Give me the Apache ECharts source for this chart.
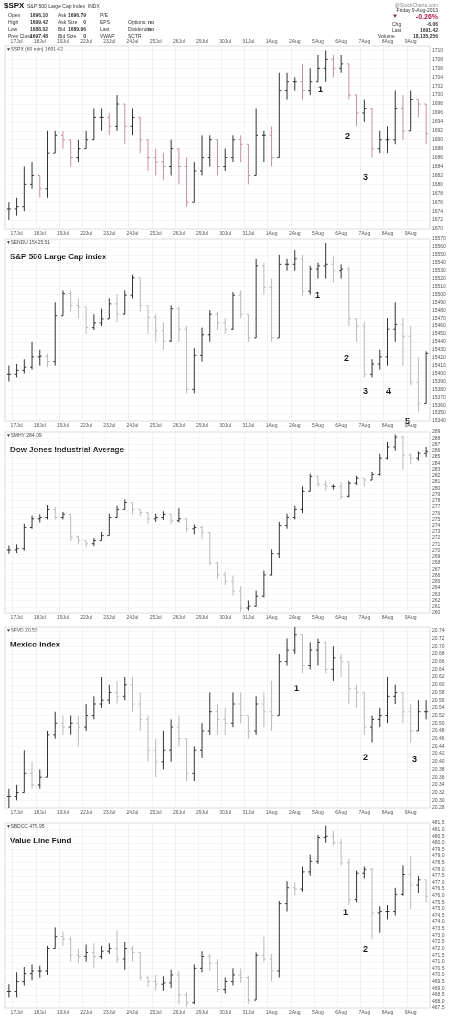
<!DOCTYPE html>
<html>
<head>
<meta charset="utf-8">
<script src="https://cdn.jsdelivr.net/npm/echarts@6/dist/echarts.min.js"></script>
<style>
body{margin:0;background:#fff;}
#main{width:450px;height:1017px;}
</style>
</head>
<body>
<div id="main"></div>
<script>
//交易日标签(每天3根60分钟K线,第一根属于16Jul)
var days=["17Jul","18Jul","19Jul","22Jul","23Jul","24Jul","25Jul","26Jul","29Jul","30Jul","31Jul","1Aug","2Aug","5Aug","6Aug","7Aug","8Aug","9Aug"];

//$SPX
var c1=[1674.5,1675,1680,1682,1679,1687,1691,1690,1686,1688,1690,1695,1695,1693,1698,1693,1695,1690,1686,1685,1684,1688,1684,1676,1683,1686,1690,1684,1686,1690,1689,1682,1691,1691,1686,1701,1703,1703,1701,1703,1706,1708,1706,1707,1700,1696,1697,1688,1690,1690,1697,1692,1699,1698,1691.4];
var h1=[1676,1677,1684,1685,1682,1692,1692,1692,1689,1690,1692,1697,1697,1696,1700,1697,1697,1694,1690,1688,1687,1690,1688,1686,1685,1691,1691,1689,1688,1691,1691,1686,1697,1692,1693,1705,1705,1704,1707,1706,1709,1710,1709,1709,1707,1699,1699,1697,1692,1693,1701,1700,1701,1699,1695];
var l1=[1672,1673,1674,1679,1677,1677,1687,1688,1684,1685,1688,1690,1692,1691,1692,1689,1691,1687,1683,1682,1681,1682,1680,1675,1676,1682,1684,1682,1683,1685,1685,1680,1682,1685,1684,1686,1699,1701,1699,1700,1703,1703,1704,1705,1699,1693,1694,1686,1687,1687,1689,1690,1692,1695,1689];
//S&P 500 Large Cap Index
var c2=[15399,15404,15408,15421,15422,15415,15473,15501,15486,15484,15458,15464,15469,15488,15475,15499,15521,15486,15471,15454,15441,15482,15456,15380,15423,15449,15475,15464,15456,15499,15475,15445,15536,15509,15445,15538,15538,15545,15504,15532,15536,15538,15530,15532,15469,15460,15399,15412,15421,15456,15462,15447,15389,15362,15425.5];
var h2=[15410,15412,15418,15440,15430,15425,15490,15505,15505,15495,15475,15475,15482,15495,15500,15505,15525,15520,15485,15475,15465,15486,15485,15460,15432,15458,15480,15478,15470,15503,15505,15475,15545,15540,15520,15550,15545,15556,15550,15536,15540,15565,15548,15538,15535,15470,15465,15418,15430,15470,15490,15470,15460,15420,15428];
var l2=[15390,15395,15400,15405,15410,15408,15410,15480,15478,15470,15450,15455,15460,15470,15465,15480,15495,15478,15450,15440,15430,15440,15440,15375,15375,15415,15440,15455,15450,15455,15470,15440,15450,15500,15440,15448,15530,15530,15498,15500,15520,15520,15515,15520,15460,15440,15395,15395,15405,15410,15440,15410,15385,15352,15385];
//Dow Jones Industrial Average
var c3=[270.1,270.3,273.7,275.1,275.3,276.6,275.3,275.8,272.2,271.6,271.1,271.6,272.4,275.3,276.6,277.7,276.6,276.1,275.1,275.3,275.8,274.8,275.1,273.5,273.7,272.9,268.0,266.1,265.1,263.5,260.8,261.1,262.7,266.1,269.5,274.0,275.3,276.6,279.5,281.9,280.6,280.3,280.3,278.7,280.8,281.6,281.3,282.2,284.8,286.6,288.2,285.3,284.8,285.6,285.9];
var h3=[270.8,271,274.3,275.6,275.8,277.3,277,276.2,273.5,272.4,271.5,272,273,275.9,277.2,278.2,277.5,276.5,275.8,275.9,276.3,275.5,276.8,274.5,274.2,274,273,268.2,266.6,266,264.3,262,263.6,266.8,270.2,274.6,275.9,277.2,280.3,282.3,282,281.2,280.6,281,281.2,282,281.6,282.6,285.5,287.4,288.6,288.4,285.6,285.9,286.6];
var l3=[269.5,269.6,270,273.5,274.5,275,275,275,271.5,271,270.5,270.7,271.6,272.5,275.5,276.8,275.8,275.5,274.3,274.6,274.9,274.2,274.5,273,272.6,271.8,267.7,265.5,264.5,262.8,260.2,260.4,261,262.5,266,268.8,273.5,275,276,279.5,280.2,279.6,279.8,278.2,278.5,280.5,280.3,281.5,282,284.6,286,283,283.8,284.4,285];
//Mexico Index
var c4=[20.31,20.32,20.37,20.34,20.36,20.47,20.50,20.49,20.50,20.49,20.52,20.55,20.56,20.58,20.57,20.60,20.55,20.51,20.43,20.40,20.43,20.49,20.46,20.37,20.43,20.48,20.53,20.51,20.50,20.55,20.52,20.48,20.55,20.53,20.52,20.66,20.69,20.73,20.65,20.69,20.71,20.64,20.67,20.66,20.59,20.58,20.49,20.51,20.52,20.57,20.58,20.53,20.48,20.53,20.53];
var h4=[20.33,20.34,20.43,20.40,20.38,20.48,20.53,20.52,20.52,20.52,20.55,20.57,20.62,20.60,20.61,20.62,20.62,20.58,20.52,20.46,20.48,20.51,20.52,20.45,20.44,20.50,20.58,20.55,20.54,20.58,20.58,20.52,20.57,20.58,20.61,20.68,20.72,20.75,20.70,20.71,20.72,20.71,20.70,20.68,20.63,20.60,20.58,20.52,20.54,20.62,20.60,20.58,20.55,20.56,20.56];
var l4=[20.28,20.30,20.32,20.33,20.33,20.36,20.46,20.47,20.47,20.44,20.48,20.51,20.54,20.55,20.55,20.56,20.53,20.48,20.40,20.36,20.38,20.40,20.44,20.35,20.35,20.41,20.47,20.47,20.47,20.49,20.50,20.46,20.47,20.49,20.48,20.52,20.65,20.68,20.63,20.64,20.65,20.63,20.61,20.62,20.55,20.54,20.47,20.45,20.49,20.50,20.55,20.50,20.45,20.49,20.51];
//Value Line Fund
var c5=[468.75,469.5,470.1,470.3,470.3,472.0,472.9,472.7,471.5,471.4,471.7,471.4,471.8,472.0,471.2,472.0,471.7,469.8,469.5,469.3,469.4,470.0,468.5,467.9,470.5,471.4,470.9,468.9,469.5,470.0,469.8,468.1,471.5,471.2,470.3,475.4,476.6,476.5,477.8,478.6,480.4,480.5,480.0,478.5,475.7,477.7,478.0,474.7,474.8,474.8,476.1,477.6,476.8,477.2,475.95];
var h5=[469.3,470.2,470.6,470.8,470.7,472.2,473.6,473.3,472.9,472.0,472.3,472.4,472.2,472.4,473.4,472.5,472.2,471.7,469.9,470.0,469.9,470.4,470.3,468.7,470.8,471.8,471.6,471.2,469.8,470.5,470.5,469.9,471.7,472.9,471.6,475.6,477.1,477.0,478.2,479.1,480.6,481.3,480.9,480.3,478.8,477.9,478.2,478.1,475.2,475.3,476.6,478.3,479.0,477.5,477.0];
var l5=[468.3,468.3,469.2,469.6,469.8,470.0,472.0,472.2,471.0,470.9,471.0,470.5,471.2,471.6,470.9,470.4,471.0,469.6,469.1,468.8,468.8,469.0,467.8,467.6,467.8,470.2,470.3,468.7,468.6,469.2,469.4,467.8,468.2,471.0,469.5,469.8,474.8,476.0,476.3,477.5,478.4,480.0,479.8,478.3,475.3,475.5,477.3,472.7,473.2,474.2,474.5,476.0,475.0,476.2,475.5];

//面板配置
var panels=[
	{c:c1,h:h1,l:l1,top:46,bottom:229,min:1670,max:1711,step:2,dec:0,down:"#c9919f",head:"\u25bc$SPX (60 min) 1691.42",title:""},
	{c:c2,h:h2,l:l2,top:239,bottom:421,min:15340,max:15570,step:10,dec:0,down:"#bbbbbb",head:"\u25bc$ENDU 15425.51",title:"S&P 500 Large Cap Index"},
	{c:c3,h:h3,l:l3,top:432,bottom:613,min:260,max:289,step:1,dec:0,down:"#bbbbbb",head:"\u25bc$MHY 284.09",title:"Dow Jones Industrial Average"},
	{c:c4,h:h4,l:l4,top:627,bottom:808,min:20.28,max:20.75,step:0.02,dec:2,down:"#bbbbbb",head:"\u25bc$FVD 20.53",title:"Mexico Index"},
	{c:c5,h:h5,l:l5,top:823,bottom:1008,min:467.5,max:481.5,step:0.5,dec:1,down:"#bbbbbb",head:"\u25bc$BDCC 475.95",title:"Value Line Fund"}
];

//横轴类目
var cats=[];
for(var i=0;i<c1.length;i++){
	cats.push(i>=1&&(i-1)%3==0?days[(i-1)/3]:"");
}

//OHLC柱绘制
function makeRender(down){
	return function(params,api){
		var i=api.value(0),o=api.value(1),c=api.value(2),l=api.value(3),h=api.value(4);
		var hi=Math.max(h,o,c),lo=Math.min(l,o,c);
		var top=api.coord([i,hi]),bot=api.coord([i,lo]);
		var po=api.coord([i,o]),pc=api.coord([i,c]);
		var col=c>=o?"#333":down;
		var st={stroke:col,lineWidth:1};
		return {type:"group",children:[
			{type:"line",shape:{x1:top[0],y1:top[1],x2:bot[0],y2:bot[1]},style:st},
			{type:"line",shape:{x1:po[0]-2,y1:po[1],x2:po[0],y2:po[1]},style:st},
			{type:"line",shape:{x1:pc[0],y1:pc[1],x2:pc[0]+2,y2:pc[1]},style:st}
		]};
	};
}

var grids=[],xAxes=[],yAxes=[],series=[],graphics=[];
var labelFont={fontSize:5,color:"#555",fontFamily:"Arial"};
for(var p=0;p<panels.length;p++){
	var P=panels[p];
	grids.push({left:5,right:20,top:P.top,height:P.bottom-P.top,show:true,borderColor:"#bbb",borderWidth:0.5});
	xAxes.push({type:"category",gridIndex:p,data:cats,boundaryGap:true,
		axisLine:{show:false},axisTick:{show:false},
		axisLabel:Object.assign({interval:0,margin:2},labelFont),
		splitLine:{show:true,interval:function(idx,v){return v!=="";},lineStyle:{color:"#e6e6e6",width:0.5}}});
	yAxes.push({type:"value",gridIndex:p,position:"right",min:P.min,max:P.max,interval:P.step,
		axisLine:{show:false},axisTick:{show:false},
		axisLabel:Object.assign({margin:2,formatter:(function(d){return function(v){return v.toFixed(d);};})(P.dec)},labelFont),
		splitLine:{lineStyle:{color:"#ececec",width:0.5}}});
	var data=[];
	for(var i=0;i<P.c.length;i++){
		var o=i==0?P.c[0]:P.c[i-1];
		data.push([i,o,P.c[i],P.l[i],P.h[i]]);
	}
	series.push({type:"custom",xAxisIndex:p,yAxisIndex:p,renderItem:makeRender(P.down),encode:{x:0,y:[1,2,3,4]},data:data,clip:true});
	graphics.push({type:"text",left:6,top:P.top+1,style:{text:P.head,fontSize:5,fill:"#444",fontFamily:"Arial"}});
	if(P.title){
		graphics.push({type:"text",left:10,top:P.top+14,style:{text:P.title,fontSize:8,fontWeight:"bold",fill:"#111",fontFamily:"Arial"}});
	}
}
//顶部横轴标签
xAxes.push({type:"category",gridIndex:0,position:"top",data:cats,axisLine:{show:false},axisTick:{show:false},
	axisLabel:Object.assign({interval:0,margin:2},labelFont)});

//标注数字
var marks=[[318,85,"1"],[345,132,"2"],[363,173,"3"],
	[315,291,"1"],[344,354,"2"],[363,387,"3"],[386,387,"4"],[405,417,"5"],
	[294,684,"1"],[363,753,"2"],[412,755,"3"],
	[343,908,"1"],[363,945,"2"]];
for(var k=0;k<marks.length;k++){
	graphics.push({type:"text",left:marks[k][0],top:marks[k][1],style:{text:marks[k][2],fontSize:9,fontWeight:"bold",fill:"#111",fontFamily:"Arial"}});
}

//页眉
var hs={fontSize:5,fill:"#333",fontFamily:"Arial"};
graphics.push({type:"text",left:4,top:2,style:{text:"$SPX",fontSize:8,fontWeight:"bold",fill:"#111",fontFamily:"Arial"}});
graphics.push({type:"text",left:27,top:4,style:Object.assign({text:"S&P 500 Large Cap Index  INDX"},hs)});
graphics.push({type:"text",right:12,top:3,style:Object.assign({text:"@StockCharts.com"},hs,{fill:"#888"})});
var rows=[["Open","1696.10","Ask","1696.79","P/E","",""],["High","1699.42","Ask Size","0","EPS","Options:","no"],["Low","1688.02","Bid","1689.96","Last","Dividends:","no"],["Prev Close","1697.48","Bid Size","0","VWAP","SCTR",""]];
for(var r=0;r<rows.length;r++){
	var y=13+r*7;
	graphics.push({type:"text",x:8,y:y,style:Object.assign({text:rows[r][0]},hs)});
	graphics.push({type:"text",x:48,y:y,style:Object.assign({text:rows[r][1],fontWeight:"bold",align:"right"},hs)});
	graphics.push({type:"text",x:58,y:y,style:Object.assign({text:rows[r][2]},hs)});
	graphics.push({type:"text",x:86,y:y,style:Object.assign({text:rows[r][3],fontWeight:"bold",align:"right"},hs)});
	graphics.push({type:"text",x:100,y:y,style:Object.assign({text:rows[r][4]},hs)});
	graphics.push({type:"text",x:128,y:y,style:Object.assign({text:rows[r][5]},hs)});
	graphics.push({type:"text",x:148,y:y,style:Object.assign({text:rows[r][6],fontWeight:"bold"},hs)});
}
graphics.push({type:"text",right:12,top:8,style:Object.assign({text:"Friday 9-Aug-2013"},hs)});
graphics.push({type:"text",left:392,top:13,style:{text:"\u25bc",fontSize:6,fill:"#8b1c3c"}});
graphics.push({type:"text",right:12,top:14,style:{text:"-0.26%",fontSize:7,fontWeight:"bold",fill:"#b0154a",fontFamily:"Arial"}});
graphics.push({type:"text",x:392,y:22,style:Object.assign({text:"Chg"},hs)});
graphics.push({type:"text",x:438,y:22,style:Object.assign({text:"-6.06",fontWeight:"bold",align:"right"},hs)});
graphics.push({type:"text",x:392,y:28,style:Object.assign({text:"Last"},hs)});
graphics.push({type:"text",x:438,y:28,style:Object.assign({text:"1691.42",fontWeight:"bold",align:"right"},hs)});
graphics.push({type:"text",x:378,y:34,style:Object.assign({text:"Volume"},hs)});
graphics.push({type:"text",x:438,y:34,style:Object.assign({text:"18,135,256",fontWeight:"bold",align:"right"},hs)});

var myChart=echarts.init(document.getElementById("main"));
myChart.setOption({animation:false,grid:grids,xAxis:xAxes,yAxis:yAxes,series:series,graphic:graphics});
</script>
</body>
</html>
